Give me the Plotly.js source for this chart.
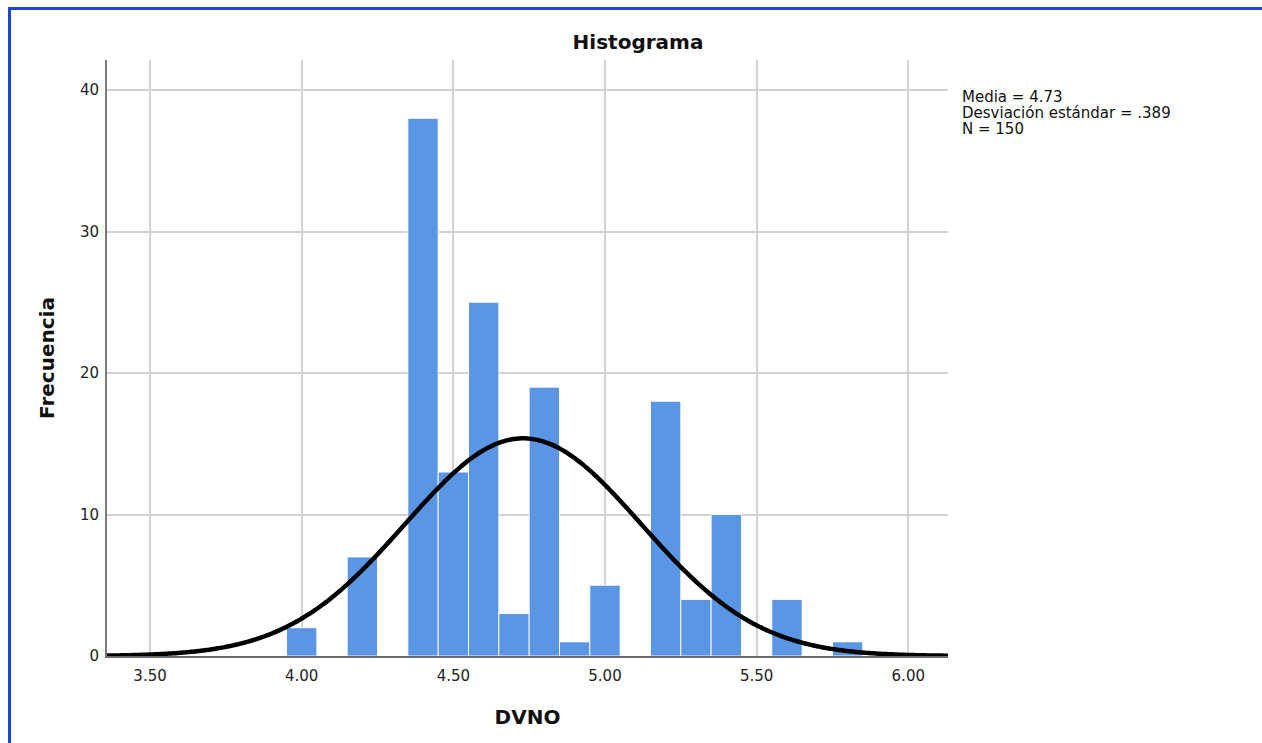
<!DOCTYPE html>
<html>
<head>
<meta charset="utf-8">
<script src="https://cdn.plot.ly/plotly-3.0.1.min.js"></script>
<style>
  html, body { margin: 0; padding: 0; background: #ffffff; }
  #wrap { position: relative; width: 1262px; height: 743px; overflow: hidden; }
  #chart { position: absolute; left: 0; top: 0; width: 1262px; height: 743px; }
  #frame { position: absolute; left: 8px; top: 7px; width: 1300px; height: 800px;
           border-left: 3px solid #1d46dc; border-top: 3px solid #1d46dc; pointer-events: none; }
</style>
</head>
<body>
<div id="wrap">
  <div id="chart"></div>
  <div id="frame"></div>
</div>
<script>
// ---- data ----
const binCenters = [4.0, 4.2, 4.4, 4.5, 4.6, 4.7, 4.8, 4.9, 5.0, 5.2, 5.3, 5.4, 5.6, 5.8];
const frequencies = [2, 7, 38, 13, 25, 3, 19, 1, 5, 18, 4, 10, 4, 1];
const binWidth = 0.1;
const statMean = 4.73;
const statSD = 0.389;
const statN = 150;
const xTickVals = [3.5, 4.0, 4.5, 5.0, 5.5, 6.0];
const yTickVals = [0, 10, 20, 30, 40];
const statLines = ["Media = 4.73", "Desviación estándar = .389", "N = 150"];

// ---- layout constants ----
const W = 1262, H = 743;
const L = 107, R = 948, T = 60, B = 656;
const xRange = [3.358, 6.131];
const yRange = [0, 42.12];

// Normal curve implied by the stated mean, SD and N (as drawn by the stats package)
const curveX = [], curveY = [];
const nPts = 300;
for (let i = 0; i <= nPts; i++) {
  const x = xRange[0] + (xRange[1] - xRange[0]) * i / nPts;
  const z = (x - statMean) / statSD;
  curveX.push(x);
  curveY.push(statN * binWidth * Math.exp(-0.5 * z * z) / (statSD * Math.sqrt(2 * Math.PI)));
}

const bars = {
  type: 'bar',
  x: binCenters,
  y: frequencies,
  width: binWidth,
  marker: { color: '#5b96e4', line: { color: 'rgba(255,255,255,0.9)', width: 1 } },
  hoverinfo: 'x+y',
  showlegend: false
};

const curve = {
  type: 'scatter',
  mode: 'lines',
  x: curveX,
  y: curveY,
  line: { color: '#000000', width: 4.5, shape: 'spline' },
  hoverinfo: 'skip',
  showlegend: false,
  cliponaxis: false
};

const plotH = B - T;
const annotations = statLines.map((t, i) => ({
  xref: 'paper', yref: 'paper',
  x: (961 - L) / (R - L), y: (B - (97 + 16 * i)) / plotH,
  xanchor: 'left', yanchor: 'middle',
  text: t, showarrow: false,
  font: { family: 'DejaVu Sans', size: 15, color: '#111111' },
  borderpad: 0
}));

const layout = {
  width: W, height: H,
  margin: { l: L, r: W - R, t: T, b: H - B, pad: 0 },
  paper_bgcolor: 'rgba(0,0,0,0)',
  plot_bgcolor: '#ffffff',
  bargap: 0,
  title: {
    text: 'Histograma',
    font: { family: 'DejaVu Sans', size: 20, color: '#111111', weight: 'bold' },
    xref: 'container', yref: 'container',
    x: 638 / W, y: 1 - 42 / H, xanchor: 'center', yanchor: 'middle'
  },
  xaxis: {
    range: xRange,
    tickvals: xTickVals,
    tickformat: '.2f',
    ticks: '',
    ticklabelstandoff: 5,
    tickfont: { family: 'DejaVu Sans', size: 15, color: '#222222' },
    showgrid: true, gridcolor: '#d2d2d2', gridwidth: 2,
    zeroline: false,
    showline: true, linecolor: '#6e6e6e', linewidth: 2,
    title: { text: 'DVNO', font: { family: 'DejaVu Sans', size: 20, color: '#111111', weight: 'bold' }, standoff: 26 },
    fixedrange: true
  },
  yaxis: {
    range: yRange,
    tickvals: yTickVals,
    ticks: '',
    ticklabelstandoff: 3,
    tickfont: { family: 'DejaVu Sans', size: 15, color: '#222222' },
    showgrid: true, gridcolor: '#d2d2d2', gridwidth: 2,
    zeroline: false,
    showline: true, linecolor: '#7a7a7a', linewidth: 2,
    title: { text: 'Frecuencia', font: { family: 'DejaVu Sans', size: 20, color: '#111111', weight: 'bold' }, standoff: 20 },
    fixedrange: true
  },
  annotations: annotations
};

Plotly.newPlot('chart', [bars, curve], layout, { displayModeBar: false, staticPlot: true });
</script>
</body>
</html>
